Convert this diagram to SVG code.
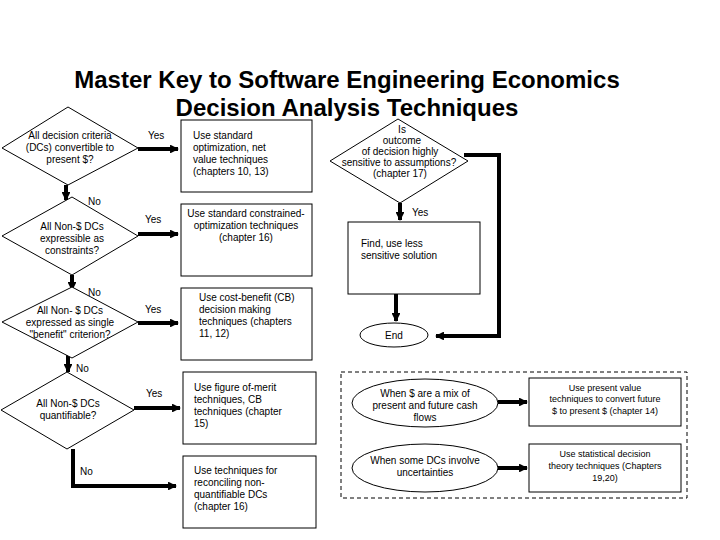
<svg xmlns="http://www.w3.org/2000/svg" width="720" height="540" viewBox="0 0 720 540">
<style>
.s{fill:#fff;stroke:#000;stroke-width:1}
text{font-family:"Liberation Sans",Arial,sans-serif;font-size:10px;fill:#000}
.c{text-anchor:middle}
.sm{font-size:9px}
.t{font-size:24px;font-weight:bold;text-anchor:middle}
.w{fill:none;stroke:#000;stroke-width:4}
</style>
<defs><marker id="a" viewBox="0 0 10 10" refX="9" refY="5" markerWidth="2.2" markerHeight="2.2" orient="auto"><path d="M0,0L10,5L0,10z"/></marker></defs>
<rect width="720" height="540" fill="#fff"/>
<text class="t" x="347" y="88">Master Key to Software Engineering Economics</text>
<text class="t" x="347" y="116">Decision Analysis Techniques</text>
<g id="connectors">
<path class="w" d="M138,149H178" marker-end="url(#a)"/>
<path class="w" d="M138,234H178" marker-end="url(#a)"/>
<path class="w" d="M138,323H178" marker-end="url(#a)"/>
<path class="w" d="M134,408H180" marker-end="url(#a)"/>
<path class="w" d="M66,185V200" marker-end="url(#a)"/>
<path class="w" d="M72,275V290" marker-end="url(#a)"/>
<path class="w" d="M68,355V372" marker-end="url(#a)"/>
<path class="w" d="M73,449V486H176" marker-end="url(#a)"/>
<path class="w" d="M400,203V220" marker-end="url(#a)"/>
<path class="w" d="M396,294V321" marker-end="url(#a)"/>
<path class="w" d="M464,155H499V336H436" marker-end="url(#a)"/>
<path class="w" d="M498,402H527" marker-end="url(#a)"/>
<path class="w" d="M498,468H527" marker-end="url(#a)"/>
<text x="148" y="139">Yes</text><text x="145" y="223">Yes</text><text x="145" y="313">Yes</text>
<text x="146" y="397">Yes</text><text x="412" y="216">Yes</text>
<text x="88" y="205">No</text><text x="88" y="296">No</text><text x="76" y="372">No</text><text x="80" y="475">No</text>
</g>
<g id="d1"><polygon class="s" points="68,107 138,148 68,185 2,148"/><text class="c" x="70" y="139">All decision criteria</text><text class="c" x="70" y="151">(DCs) convertible to</text><text class="c" x="70" y="163">present $?</text></g>
<g id="d2"><polygon class="s" points="72,197 138,236 72,275 2,236"/><text class="c" x="72" y="230">All Non-$ DCs</text><text class="c" x="72" y="242">expressible as</text><text class="c" x="72" y="254">constraints?</text></g>
<g id="d3"><polygon class="s" points="72,287 138,322 72,358 2,322"/><text class="c" x="70" y="314">All Non- $ DCs</text><text class="c" x="70" y="326">expressed as single</text><text class="c" x="70" y="338">"benefit" criterion?</text></g>
<g id="d4"><polygon class="s" points="67,372 134,410 67,449 1,410"/><text class="c" x="68" y="407">All Non-$ DCs</text><text class="c" x="68" y="419">quantifiable?</text></g>
<g id="b1"><rect class="s" x="181" y="120" width="131" height="72"/><text x="193" y="139">Use standard</text><text x="193" y="151">optimization, net</text><text x="193" y="163">value techniques</text><text x="193" y="175">(chapters 10, 13)</text></g>
<g id="b2"><rect class="s" x="181" y="204" width="131" height="72"/><text class="c" x="246" y="217">Use standard constrained-</text><text class="c" x="246" y="229">optimization techniques</text><text class="c" x="246" y="241">(chapter 16)</text></g>
<g id="b3"><rect class="s" x="181" y="288" width="131" height="72"/><text x="199" y="301">Use cost-benefit (CB)</text><text x="199" y="313">decision making</text><text x="199" y="325">techniques (chapters</text><text x="199" y="337">11, 12)</text></g>
<g id="b4"><rect class="s" x="183" y="372" width="133" height="72"/><text x="194" y="391">Use figure of-merit</text><text x="194" y="403">techniques, CB</text><text x="194" y="415">techniques  (chapter</text><text x="194" y="427">15)</text></g>
<g id="b5"><rect class="s" x="183" y="456" width="133" height="72"/><text x="194" y="474">Use techniques for</text><text x="194" y="486">reconciling non-</text><text x="194" y="498">quantifiable DCs</text><text x="194" y="510">(chapter 16)</text></g>
<g id="d5"><polygon class="s" points="398,119 468,161 400,203 330,161"/><text class="c" x="402" y="133">Is</text><text class="c" x="402" y="144">outcome</text><text class="c" x="400" y="155">of decision highly</text><text class="c" x="399" y="166">sensitive to assumptions?</text><text class="c" x="400" y="177">(chapter 17)</text></g>
<g id="b6"><rect class="s" x="348" y="222" width="132" height="72"/><text x="361" y="247">Find, use less</text><text x="361" y="259">sensitive solution</text></g>
<g id="end"><ellipse class="s" cx="394" cy="335" rx="34" ry="12"/><text class="c" x="394" y="339">End</text></g>
<rect x="341" y="372" width="346" height="126" fill="none" stroke="#000" stroke-dasharray="4,3"/>
<g id="e1"><ellipse class="s" cx="425" cy="403" rx="73" ry="24"/><text class="c" x="425" y="397">When $ are a mix of</text><text class="c" x="425" y="409">present and future cash</text><text class="c" x="425" y="421">flows</text></g>
<g id="e2"><ellipse class="s" cx="425" cy="468" rx="73" ry="24"/><text class="c" x="425" y="464">When some DCs involve</text><text class="c" x="425" y="476">uncertainties</text></g>
<g id="b7"><rect class="s" x="529" y="378" width="152" height="48"/><text class="c sm" x="605" y="391">Use present value</text><text class="c sm" x="605" y="402">techniques to convert future</text><text class="c sm" x="605" y="414">$ to present $ (chapter 14)</text></g>
<g id="b8"><rect class="s" x="529" y="444" width="152" height="48"/><text class="c sm" x="605" y="457">Use statistical decision</text><text class="c sm" x="605" y="469">theory techniques (Chapters</text><text class="c sm" x="605" y="481">19,20)</text></g>
</svg>
